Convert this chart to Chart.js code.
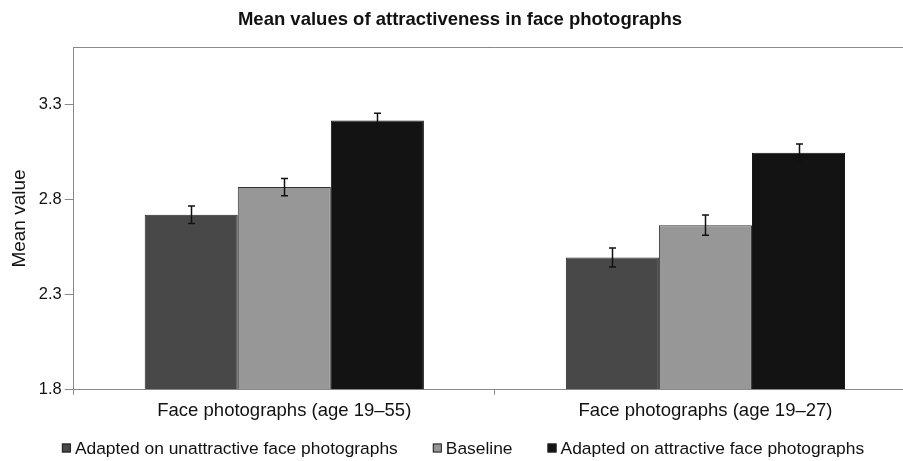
<!DOCTYPE html>
<html>
<head>
<meta charset="utf-8">
<script src="https://cdn.jsdelivr.net/npm/chart.js@4.4.1/dist/chart.umd.min.js"></script>
<style>
  html, body { margin: 0; padding: 0; background: #fff; overflow: hidden; }
  #wrap { width: 916px; height: 461px; position: relative; }
</style>
</head>
<body>
<div id="wrap"><canvas id="chart"></canvas></div>
<script>
// Groups of face photographs shown on the x axis
const categories = ['Face photographs (age 19\u201355)', 'Face photographs (age 19\u201327)'];

// Mean attractiveness ratings per adaptation condition
const unattractiveMeans = [2.72, 2.495];
const baselineMeans = [2.865, 2.665];
const attractiveMeans = [3.215, 3.045];

// Standard errors drawn as whiskers on each bar
const unattractiveErr = [0.046, 0.050];
const baselineErr = [0.045, 0.053];
const attractiveErr = [0.038, 0.046];

// Labelled y-axis ticks
const yTicks = [1.8, 2.3, 2.8, 3.3];

const AXIS_GREY = '#8a8a8a';
const FONT = "'Liberation Sans', Arial, sans-serif";

// Whiskers for the standard errors, placed through the value scale
const errorBars = {
  id: 'errorBars',
  afterDatasetsDraw(chart) {
    const { ctx, scales: { y } } = chart;
    ctx.save();
    ctx.strokeStyle = '#111';
    ctx.lineWidth = 1.5;
    chart.data.datasets.forEach((ds, i) => {
      const meta = chart.getDatasetMeta(i);
      meta.data.forEach((bar, j) => {
        const v = ds.data[j];
        const e = ds.errors[j];
        const top = y.getPixelForValue(v + e);
        const bot = y.getPixelForValue(v - e);
        const x = Math.round(bar.x) + 0.5;
        ctx.beginPath();
        ctx.moveTo(x, top); ctx.lineTo(x, bot);
        ctx.moveTo(x - 3.5, top); ctx.lineTo(x + 3.5, top);
        ctx.moveTo(x - 3.5, bot); ctx.lineTo(x + 3.5, bot);
        ctx.stroke();
      });
    });
    ctx.restore();
  }
};

// Top edge of the plot frame
const topFrame = {
  id: 'topFrame',
  beforeDatasetsDraw(chart) {
    const { ctx, chartArea } = chart;
    ctx.save();
    ctx.strokeStyle = AXIS_GREY;
    ctx.lineWidth = 1;
    ctx.beginPath();
    ctx.moveTo(chartArea.left, Math.round(chartArea.top) + 0.5);
    ctx.lineTo(chartArea.right, Math.round(chartArea.top) + 0.5);
    ctx.stroke();
    ctx.restore();
  }
};

// Compact legend row under the axis: small squares, tight text gap
const legendRow = {
  id: 'legendRow',
  afterDraw(chart, args, opts) {
    const { ctx } = chart;
    const size = opts.fontSize;
    ctx.save();
    ctx.font = size + 'px ' + FONT;
    ctx.textBaseline = 'middle';
    const items = chart.data.datasets.map(ds => ({
      text: ds.label, fill: ds.backgroundColor, stroke: ds.borderColor,
      w: opts.box + opts.gap + ctx.measureText(ds.label).width
    }));
    const total = items.reduce((s, it) => s + it.w, 0) + opts.spacing * (items.length - 1);
    let x = chart.width / 2 + opts.shift - total / 2;
    const yMid = chart.height - opts.bottom;
    items.forEach(it => {
      ctx.fillStyle = it.fill;
      ctx.fillRect(x, yMid - opts.box / 2, opts.box, opts.box);
      ctx.strokeStyle = '#222';
      ctx.lineWidth = 1;
      ctx.strokeRect(x + 0.5, yMid - opts.box / 2 + 0.5, opts.box - 1, opts.box - 1);
      ctx.fillStyle = '#111';
      ctx.fillText(it.text, x + opts.box + opts.gap, yMid + 1);
      x += it.w + opts.spacing;
    });
    ctx.restore();
  }
};

new Chart(document.getElementById('chart'), {
  type: 'bar',
  data: {
    labels: categories,
    datasets: [
      { label: 'Adapted on unattractive face photographs', data: unattractiveMeans, errors: unattractiveErr,
        backgroundColor: '#484848', borderColor: '#262626', borderWidth: 1 },
      { label: 'Baseline', data: baselineMeans, errors: baselineErr,
        backgroundColor: '#979797', borderColor: '#333333', borderWidth: 1 },
      { label: 'Adapted on attractive face photographs', data: attractiveMeans, errors: attractiveErr,
        backgroundColor: '#131313', borderColor: '#111111', borderWidth: 1 }
    ]
  },
  options: {
    responsive: true,
    maintainAspectRatio: false,
    animation: false,
    layout: { padding: { left: 4, right: 0, top: 0, bottom: 34 } },
    datasets: { bar: { categoryPercentage: 0.663, barPercentage: 1.0, base: 1.8 } },
    plugins: {
      title: {
        display: true,
        text: 'Mean values of attractiveness in face photographs',
        color: '#111',
        font: { family: FONT, size: 18.5, weight: 'bold' },
        padding: { top: 9, bottom: 16 }
      },
      legend: { display: false },
      legendRow: { fontSize: 17.4, box: 9, gap: 4, spacing: 35, bottom: 13, shift: 5 },
      tooltip: { enabled: false }
    },
    scales: {
      x: {
        offset: true,
        border: { color: AXIS_GREY, width: 1 },
        grid: { display: true, offset: true, drawOnChartArea: false, tickLength: 5, color: AXIS_GREY },
        ticks: { color: '#111', font: { family: FONT, size: 18.5 }, padding: 5 }
      },
      y: {
        min: 1.8,
        max: 3.6,
        afterBuildTicks(scale) { scale.ticks = yTicks.map(v => ({ value: v })); },
        border: { color: AXIS_GREY, width: 1 },
        grid: { display: true, drawOnChartArea: false, tickLength: 9, color: AXIS_GREY },
        ticks: { color: '#111', font: { family: FONT, size: 16.5 }, padding: 3,
                 callback: v => v.toFixed(1) },
        title: { display: true, text: 'Mean value', color: '#111',
                 font: { family: FONT, size: 19 }, padding: { top: 4, bottom: 5 } }
      }
    }
  },
  plugins: [errorBars, topFrame, legendRow]
});
</script>
</body>
</html>
